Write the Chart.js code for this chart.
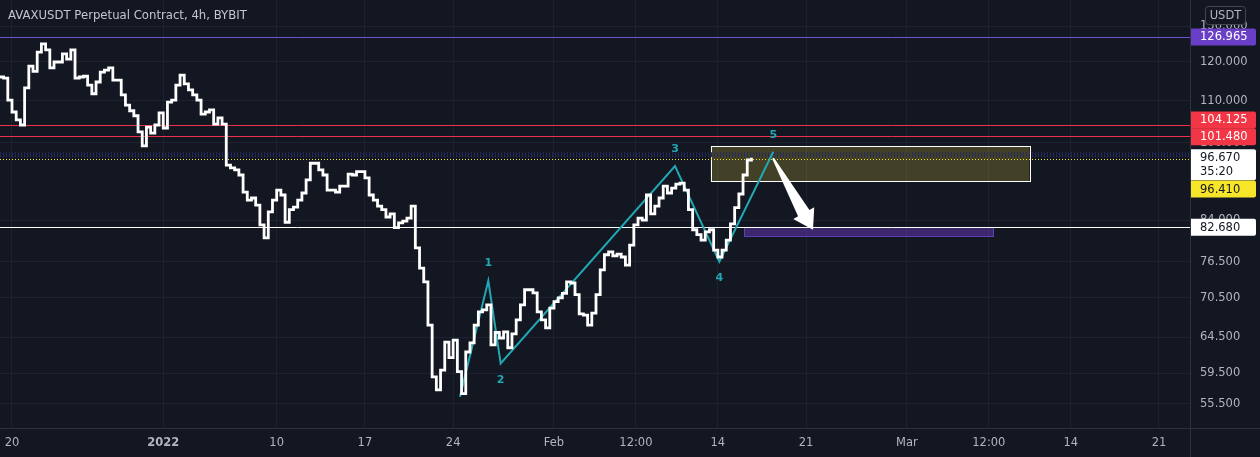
<!DOCTYPE html>
<html>
<head>
<meta charset="utf-8">
<script src="https://cdn.jsdelivr.net/npm/chart.js@4.4.1/dist/chart.umd.min.js"></script>
<style>
html, body { margin: 0; padding: 0; background: #131722; }
canvas { display: block; }
</style>
</head>
<body>
<canvas id="chart" width="1260" height="457"></canvas>
<script>
// x axis is in days, day 0 = Dec 20. closes are read every 8 hours starting Dec 19 00:00
const startDay = -1
const stepDays = 1 / 3
const closes = [
    116.0, 115.7, 110.1, 107.2, 105.3, 104.1, 113.2, 118.9, 117.5, 122.7,
    125.0, 123.3, 118.4, 120.0, 120.0, 122.2, 120.8, 123.3, 115.7, 116.0,
    116.2, 113.9, 111.7, 114.7, 117.3, 117.8, 118.4, 115.2, 115.2, 111.4,
    108.9, 107.5, 106.3, 102.5, 99.3, 103.6, 102.2, 104.1, 107.0, 103.4,
    109.6, 110.1, 113.9, 116.5, 114.2, 112.7, 111.4, 110.1, 106.7, 107.2,
    107.7, 104.3, 105.8, 104.3, 95.1, 94.5, 94.1, 93.0, 89.5, 87.9,
    88.3, 86.9, 83.1, 80.7, 85.6, 87.9, 89.9, 88.9, 83.6, 86.0,
    86.5, 87.9, 89.3, 92.0, 95.5, 95.5, 94.1, 93.0, 89.9, 89.9,
    89.5, 90.7, 90.7, 93.2, 93.0, 93.7, 93.7, 92.4, 88.9, 87.9,
    86.7, 86.0, 84.6, 85.2, 82.6, 83.5, 83.8, 84.4, 86.7, 78.9,
    75.4, 73.1, 66.3, 59.0, 57.3, 59.9, 63.8, 61.6, 64.1, 59.7,
    56.8, 62.4, 63.7, 66.3, 68.3, 68.6, 69.4, 63.4, 65.2, 64.4,
    65.3, 63.0, 65.0, 67.1, 69.4, 71.8, 71.8, 71.3, 68.3, 67.1,
    65.9, 68.9, 69.9, 70.5, 71.2, 73.1, 72.9, 71.0, 68.0, 67.8,
    66.3, 68.1, 71.0, 75.1, 77.7, 78.2, 77.5, 77.8, 77.3, 75.9,
    79.4, 83.1, 84.4, 84.0, 88.9, 85.2, 86.7, 88.3, 90.7, 89.3,
    90.3, 91.1, 91.3, 89.9, 86.0, 82.2, 81.3, 80.3, 81.8, 82.2,
    78.5, 77.3, 78.5, 80.3, 83.3, 86.4, 89.1, 93.0, 96.2, 96.67
]

const dayTicks = [0, 12, 21, 28, 35, 43, 49.5, 56, 63, 71, 77.5, 84, 91]
const dayLabels = ['20', '2022', '10', '17', '24', 'Feb', '12:00', '14', '21', 'Mar', '12:00', '14', '21']
const priceTicks = [55.5, 59.5, 64.5, 70.5, 76.5, 84, 100, 110, 120, 130]

// elliott wave drawing
const waveDays = [35.54, 37.79, 38.77, 52.6, 56.12, 60.4]
const wavePrices = [56.4, 73.3, 60.8, 94.9, 76.5, 98.0]
const waveLabels = ['', '1', '2', '3', '4', '5']

// horizontal levels and zones
const purpleLevel = 126.965
const redLevels = [104.125, 101.48]
const yellowLevel = 96.41
const whiteLevel = 82.68
const lastPrice = 96.67
const countdown = '35:20'
const sellZone = [55.43, 80.71, 99.3, 91.7]   // day from, day to, price top, price bottom
const targetZone = [58.1, 77.86, 82.68, 81.0]
const arrowFrom = [60.38, 96.6]
const arrowTo = [63.55, 82.2]

const font = 'DejaVu Sans'
const textGrey = '#b2b5be'
const teal = '#22a7b4'

function fmt(v) {
    return v.toFixed(3)
}

const overlay = {
    id: 'overlay',
    beforeDatasetsDraw(chart) {
        const { ctx, chartArea: a, scales: { x, y } } = chart
        ctx.save()
        ctx.beginPath()
        ctx.rect(a.left, a.top, a.width, a.height)
        ctx.clip()

        // yellow zone
        let x1 = x.getPixelForValue(sellZone[0]), x2 = x.getPixelForValue(sellZone[1])
        let y1 = y.getPixelForValue(sellZone[2]), y2 = y.getPixelForValue(sellZone[3])
        ctx.fillStyle = 'rgba(255, 235, 59, 0.2)'
        ctx.fillRect(x1, y1, x2 - x1, y2 - y1)
        ctx.strokeStyle = '#ffffff'
        ctx.lineWidth = 1
        ctx.strokeRect(Math.round(x1) + 0.5, Math.round(y1) + 0.5, Math.round(x2 - x1), Math.round(y2 - y1))

        // purple target zone
        x1 = x.getPixelForValue(targetZone[0]); x2 = x.getPixelForValue(targetZone[1])
        y1 = y.getPixelForValue(targetZone[2]); y2 = y.getPixelForValue(targetZone[3])
        ctx.fillStyle = 'rgba(103, 58, 183, 0.5)'
        ctx.fillRect(x1, y1, x2 - x1, y2 - y1)
        ctx.strokeStyle = '#5b3fb8'
        ctx.strokeRect(Math.round(x1) + 0.5, Math.round(y1) + 0.5, Math.round(x2 - x1), Math.round(y2 - y1))

        function hline(price, color, width, dash) {
            const py = Math.round(y.getPixelForValue(price)) + 0.5
            ctx.strokeStyle = color
            ctx.lineWidth = width
            ctx.setLineDash(dash || [])
            ctx.beginPath()
            ctx.moveTo(a.left, py)
            ctx.lineTo(a.right, py)
            ctx.stroke()
        }
        hline(purpleLevel, '#7052d6', 1)
        redLevels.forEach(p => hline(p, '#f0304a', 1))
        // dotted price line band
        const by = y.getPixelForValue(lastPrice) - 3
        ctx.strokeStyle = '#262a5e'
        ctx.lineWidth = 5
        ctx.setLineDash([1, 2])
        ctx.beginPath()
        ctx.moveTo(a.left, by)
        ctx.lineTo(a.right, by)
        ctx.stroke()
        hline(yellowLevel, '#f7e52a', 1, [1, 2])
        hline(whiteLevel, '#ffffff', 1)
        ctx.restore()
    },
    afterDatasetsDraw(chart) {
        const { ctx, scales: { x, y } } = chart
        ctx.save()

        // arrow
        const p0 = [x.getPixelForValue(arrowFrom[0]), y.getPixelForValue(arrowFrom[1])]
        const p1 = [x.getPixelForValue(arrowTo[0]), y.getPixelForValue(arrowTo[1])]
        const dx = p1[0] - p0[0], dy = p1[1] - p0[1]
        const len = Math.hypot(dx, dy)
        const ux = dx / len, uy = dy / len, nx = -uy, ny = ux
        const headLen = 19, headHalf = 12, shaftHalf = 6.5
        const bx = p1[0] - ux * headLen, by = p1[1] - uy * headLen
        ctx.fillStyle = '#ffffff'
        ctx.beginPath()
        ctx.moveTo(p0[0] - nx * 1, p0[1] - ny * 1)
        ctx.lineTo(bx - nx * shaftHalf, by - ny * shaftHalf)
        ctx.lineTo(bx - nx * headHalf, by - ny * headHalf)
        ctx.lineTo(p1[0], p1[1])
        ctx.lineTo(bx + nx * headHalf, by + ny * headHalf)
        ctx.lineTo(bx + nx * shaftHalf, by + ny * shaftHalf)
        ctx.lineTo(p0[0] + nx * 1, p0[1] + ny * 1)
        ctx.closePath()
        ctx.fill()

        // wave numbers
        ctx.fillStyle = teal
        ctx.font = `bold 11px "${font}"`
        ctx.textAlign = 'center'
        ctx.textBaseline = 'middle'
        waveLabels.forEach((t, i) => {
            if (!t) return
            const px = x.getPixelForValue(waveDays[i])
            const py = y.getPixelForValue(wavePrices[i])
            const below = i > 0 && wavePrices[i] < wavePrices[i - 1]
            ctx.fillText(t, px, below ? py + 17 : py - 17)
        })
        ctx.restore()
    },
    afterDraw(chart) {
        const { ctx, chartArea: a, scales: { y } } = chart
        ctx.save()

        // separators
        ctx.strokeStyle = '#2e323d'
        ctx.lineWidth = 1
        ctx.beginPath()
        ctx.moveTo(a.right + 0.5, 0)
        ctx.lineTo(a.right + 0.5, chart.height)
        ctx.moveTo(0, a.bottom + 0.5)
        ctx.lineTo(chart.width, a.bottom + 0.5)
        ctx.stroke()

        // title
        ctx.font = `11.7px "${font}"`
        ctx.fillStyle = '#c3c6ce'
        ctx.textBaseline = 'middle'
        ctx.textAlign = 'left'
        ctx.fillText('AVAXUSDT Perpetual Contract, 4h, BYBIT', 8, 16)

        // currency box
        ctx.font = `11.5px "${font}"`
        ctx.fillStyle = '#131722'
        ctx.strokeStyle = '#434651'
        ctx.beginPath()
        ctx.roundRect(1205.5, 6.5, 40, 18, 3)
        ctx.fill()
        ctx.stroke()
        ctx.fillStyle = textGrey
        ctx.textAlign = 'center'
        ctx.fillText('USDT', 1225.5, 16)

        // price tags on the axis
        function tag(price, offset, text, bg, fg, extra) {
            const cy = y.getPixelForValue(price) + offset
            const h = extra ? 31 : 17
            ctx.fillStyle = bg
            ctx.beginPath()
            ctx.roundRect(a.right + 1, cy - 8.5, 65, h, [0, 2, 2, 0])
            ctx.fill()
            ctx.fillStyle = fg
            ctx.textAlign = 'left'
            ctx.fillText(text, 1200, cy + 0.5)
            if (extra) ctx.fillText(extra, 1200, cy + 14.5)
        }
        tag(purpleLevel, 0, fmt(purpleLevel), '#6a3fc8', '#ffffff')
        tag(redLevels[0], -5, fmt(redLevels[0]), '#f23645', '#ffffff')
        tag(redLevels[1], 0.5, fmt(redLevels[1]), '#f23645', '#ffffff')
        tag(lastPrice, 0, fmt(lastPrice), '#ffffff', '#131722', countdown)
        tag(yellowLevel, 30, fmt(yellowLevel), '#f7e52a', '#131722')
        tag(whiteLevel, 0, fmt(whiteLevel), '#ffffff', '#131722')
        ctx.restore()
    }
}

new Chart(document.getElementById('chart'), {
    type: 'line',
    data: {
        datasets: [{
            data: closes.map((c, i) => ({ x: startDay + i * stepDays, y: c })),
            borderColor: '#ffffff',
            borderWidth: 2.8,
            pointRadius: 0,
            stepped: 'before'
        }, {
            data: waveDays.map((d, i) => ({ x: d, y: wavePrices[i] })),
            borderColor: teal,
            borderWidth: 2,
            pointRadius: 0,
            tension: 0
        }]
    },
    options: {
        responsive: false,
        animation: false,
        devicePixelRatio: 1,
        layout: { padding: 0 },
        plugins: {
            legend: { display: false },
            tooltip: { enabled: false }
        },
        scales: {
            x: {
                type: 'linear',
                min: -0.952,
                max: 93.46,
                bounds: 'data',
                grid: { color: '#1d2130', drawTicks: false },
                border: { display: false },
                ticks: {
                    autoSkip: false,
                    maxRotation: 0,
                    padding: 8,
                    color: textGrey,
                    font: (c) => ({ family: font, size: 11.5, weight: c.tick && c.tick.value === 12 ? 'bold' : 'normal' }),
                    callback: (v) => dayLabels[dayTicks.indexOf(v)]
                },
                afterBuildTicks: (s) => { s.ticks = dayTicks.map(v => ({ value: v })) },
                afterFit: (s) => { s.height = 29; s.paddingLeft = 0; s.paddingRight = 0 }
            },
            y: {
                type: 'logarithmic',
                position: 'right',
                min: 52.57,
                max: 138.0,
                bounds: 'data',
                grid: { color: '#1d2130', drawTicks: false },
                border: { display: false },
                ticks: {
                    padding: 10,
                    color: textGrey,
                    font: { family: font, size: 11.5 },
                    callback: (v) => fmt(v)
                },
                afterBuildTicks: (s) => { s.ticks = priceTicks.map(v => ({ value: v })) },
                afterFit: (s) => { s.width = 70; s.paddingTop = 0; s.paddingBottom = 0 }
            }
        }
    },
    plugins: [overlay]
})
</script>
</body>
</html>
